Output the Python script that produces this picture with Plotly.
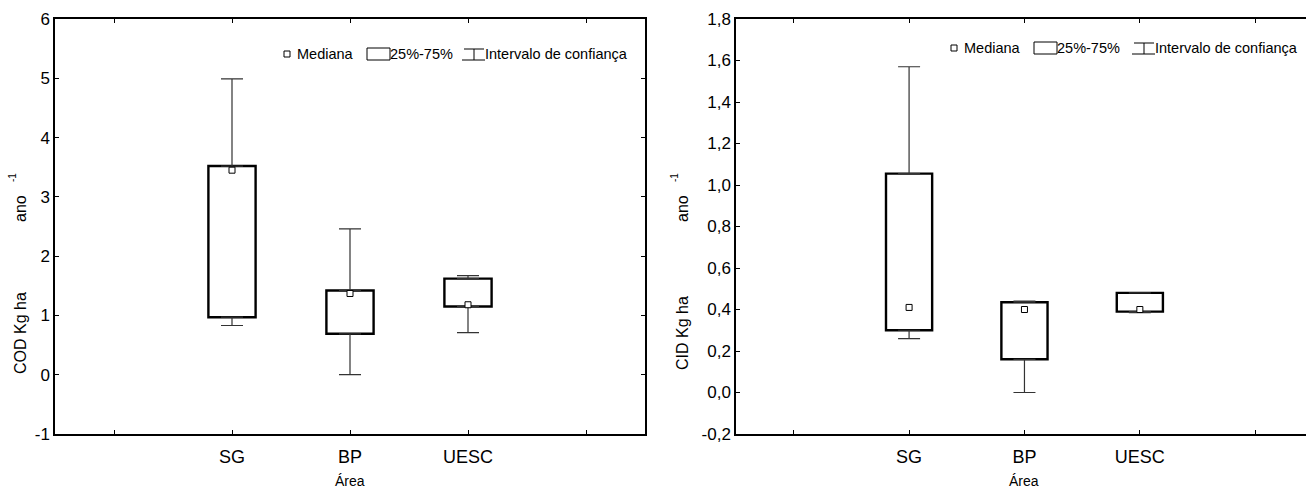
import plotly.graph_objects as go

# ---------------- data ----------------
categories = ["SG", "BP", "UESC"]
positions = [2, 3, 4]          # category slots on a 1..5 axis (STATISTICA style)
axis_ticks = [1, 2, 3, 4, 5]

# COD (left panel)
cod_min = [0.83, 0.00, 0.71]
cod_q1 = [0.97, 0.69, 1.15]
cod_med = [3.45, 1.37, 1.18]
cod_q3 = [3.52, 1.42, 1.62]
cod_max = [4.99, 2.46, 1.67]

# CID (right panel)
cid_min = [0.26, 0.00, 0.385]
cid_q1 = [0.30, 0.16, 0.39]
cid_med = [0.41, 0.40, 0.40]
cid_q3 = [1.055, 0.435, 0.48]
cid_max = [1.57, 0.44, 0.48]

left_yticks = [-1, 0, 1, 2, 3, 4, 5, 6]
left_yticktext = ["-1", "0", "1", "2", "3", "4", "5", "6"]
right_yticks = [-0.2, 0.0, 0.2, 0.4, 0.6, 0.8, 1.0, 1.2, 1.4, 1.6, 1.8]
right_yticktext = ["-0,2", "0,0", "0,2", "0,4", "0,6", "0,8", "1,0",
                   "1,2", "1,4", "1,6", "1,8"]

legend_labels = ["Mediana", "25%-75%", "Intervalo de confiança"]

W, H = 1306, 491
FONT = "Liberation Sans, Arial, sans-serif"


def px(x):
    return x / W


def py(y):
    return 1 - y / H


fig = go.Figure()


def add_panel(xa, ya, mins, q1, med, q3, mx):
    up = [a - b for a, b in zip(mx, q3)]
    dn = [a - b for a, b in zip(q1, mins)]
    fig.add_trace(go.Scatter(
        x=positions, y=q3, mode="markers", xaxis=xa, yaxis=ya,
        marker=dict(size=1, opacity=0), showlegend=False, hoverinfo="skip",
        error_y=dict(type="data", symmetric=False, array=up,
                     arrayminus=[0] * len(up), width=11, thickness=1.2,
                     color="#333333")))
    fig.add_trace(go.Scatter(
        x=positions, y=q1, mode="markers", xaxis=xa, yaxis=ya,
        marker=dict(size=1, opacity=0), showlegend=False, hoverinfo="skip",
        error_y=dict(type="data", symmetric=False, array=[0] * len(dn),
                     arrayminus=dn, width=11, thickness=1.2,
                     color="#333333")))
    fig.add_trace(go.Bar(
        x=positions, y=[a - b for a, b in zip(q3, q1)], base=q1,
        xaxis=xa, yaxis=ya, width=0.4, showlegend=False,
        marker=dict(color="white", line=dict(color="black", width=2.4))))
    fig.add_trace(go.Scatter(
        x=positions, y=med, mode="markers", xaxis=xa, yaxis=ya,
        showlegend=False,
        marker=dict(symbol="square", size=6, color="white",
                    line=dict(color="black", width=1))))


add_panel("x", "y", cod_min, cod_q1, cod_med, cod_q3, cod_max)
add_panel("x2", "y2", cid_min, cid_q1, cid_med, cid_q3, cid_max)

ticktext = [""] + categories + [""]

common_x = dict(tickmode="array", tickvals=axis_ticks, ticktext=ticktext,
                ticks="inside", ticklen=4, tickcolor="black",
                showline=True, linecolor="black", linewidth=1.5,
                showgrid=False, zeroline=False, automargin=False,
                tickfont=dict(family=FONT, size=18, color="black"),
                ticklabelstandoff=6)
common_y = dict(tickmode="array", ticks="inside", ticklen=4, tickcolor="black",
                showline=True, linecolor="black", linewidth=1.5,
                showgrid=False, zeroline=False, automargin=False,
                tickfont=dict(family=FONT, size=17, color="black"))

ydom = [py(434), py(19)]

fig.update_layout(
    width=W, height=H, margin=dict(l=0, r=0, t=0, b=0, autoexpand=False),
    paper_bgcolor="white", plot_bgcolor="white",
    barmode="overlay", showlegend=False,
    xaxis=dict(domain=[px(55), px(645)], range=[0.5, 5.5], anchor="y",
               mirror="ticks", **common_x),
    yaxis=dict(domain=ydom, range=[-1, 6], tickvals=left_yticks,
               ticktext=left_yticktext, anchor="x", mirror="ticks", **common_y),
    xaxis2=dict(domain=[px(736), 1.0], range=[0.5, 5.44], anchor="y2",
                mirror="ticks", **common_x),
    yaxis2=dict(domain=ydom, range=[-0.2, 1.8], tickvals=right_yticks,
                ticktext=right_yticktext, anchor="x2", mirror=False, **common_y),
)

ann = []
for xref in ("x", "x2"):
    ann.append(dict(x=3, xref=xref, y=py(481), yref="paper",
                    xanchor="center", yanchor="middle",
                    text="Área", showarrow=False,
                    font=dict(family=FONT, size=14, color="black")))

for x0, label in ((20, "COD Kg ha"), (682, "CID Kg ha")):
    ann.append(dict(x=px(x0), y=py(333), xref="paper", yref="paper",
                    xanchor="center", yanchor="middle",
                    text=label, textangle=-90, showarrow=False,
                    font=dict(family=FONT, size=16, color="black")))
    ann.append(dict(x=px(x0), y=py(209), xref="paper", yref="paper",
                    xanchor="center", yanchor="middle",
                    text="ano", textangle=-90, showarrow=False,
                    font=dict(family=FONT, size=16, color="black")))
    ann.append(dict(x=px(x0 - 8), y=py(178), xref="paper", yref="paper",
                    xanchor="center", yanchor="middle",
                    text="-1", textangle=-90, showarrow=False,
                    font=dict(family=FONT, size=10, color="black")))

shapes = []
LEG = 14.5


def legend(x_sq, x_box, x_wh, y_c):
    shapes.append(dict(type="rect", xref="paper", yref="paper",
                       x0=px(x_sq), x1=px(x_sq + 6), y0=py(y_c + 3), y1=py(y_c - 3),
                       line=dict(color="black", width=1), fillcolor="white"))
    ann.append(dict(x=px(x_sq + 11), y=py(y_c), xref="paper", yref="paper",
                    xanchor="left", yanchor="middle", text=legend_labels[0],
                    showarrow=False,
                    font=dict(family=FONT, size=LEG, color="black")))
    shapes.append(dict(type="rect", xref="paper", yref="paper",
                       x0=px(x_box), x1=px(x_box + 23), y0=py(y_c + 6), y1=py(y_c - 6),
                       line=dict(color="black", width=1), fillcolor="white"))
    ann.append(dict(x=px(x_box + 21), y=py(y_c), xref="paper", yref="paper",
                    xanchor="left", yanchor="middle", text=legend_labels[1],
                    showarrow=False,
                    font=dict(family=FONT, size=LEG, color="black")))
    xm = x_wh + 12
    for (xa, ya, xb, yb) in ((x_wh + 2, y_c - 5, x_wh + 22, y_c - 5),
                             (x_wh, y_c + 6, x_wh + 23, y_c + 6),
                             (xm, y_c - 5, xm, y_c + 6)):
        shapes.append(dict(type="line", xref="paper", yref="paper",
                           x0=px(xa), y0=py(ya), x1=px(xb), y1=py(yb),
                           line=dict(color="black", width=1)))
    ann.append(dict(x=px(x_wh + 21), y=py(y_c), xref="paper", yref="paper",
                    xanchor="left", yanchor="middle", text=legend_labels[2],
                    showarrow=False,
                    font=dict(family=FONT, size=LEG, color="black")))


legend(284, 367, 462, 54)
legend(951, 1034, 1132, 48)

fig.update_layout(annotations=ann, shapes=shapes)

fig.write_html(
    "out.html",
    config={"displayModeBar": False},
    post_script="document.body.style.margin='0';document.body.style.overflow='hidden';",
)
